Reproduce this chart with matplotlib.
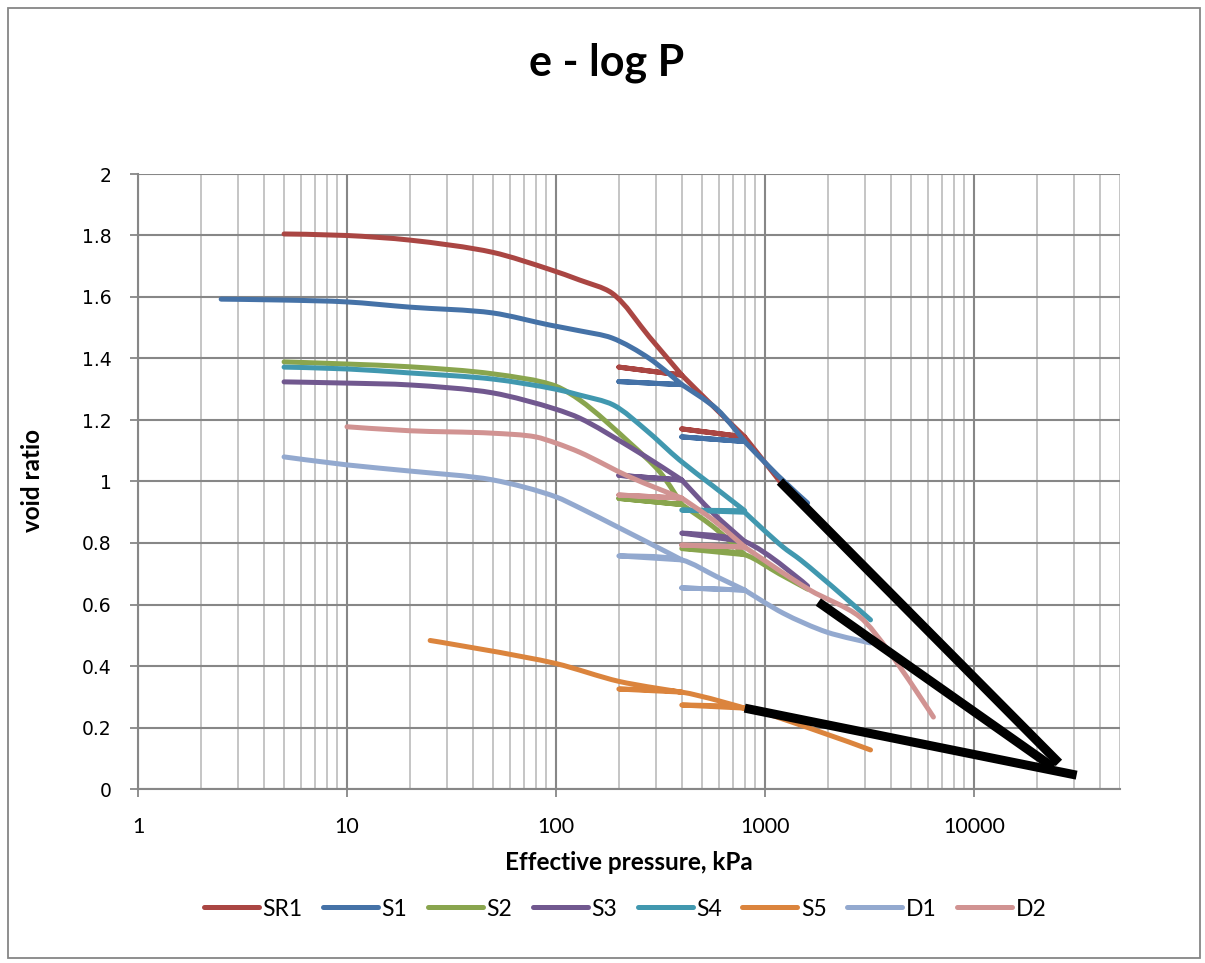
import matplotlib
matplotlib.use("Agg")
import numpy as np
import matplotlib.pyplot as plt
from matplotlib.ticker import LogLocator, FixedLocator, NullFormatter, FixedFormatter
from matplotlib.patches import Rectangle, PathPatch
from matplotlib.path import Path
from matplotlib.lines import Line2D

# ---------------- data ----------------
SR1_P = [5, 10, 20, 50, 93, 130, 185, 280, 400, 200, 400, 590, 800, 400, 800, 1180]
SR1_e = [1.805, 1.80, 1.785, 1.745, 1.69, 1.655, 1.613, 1.47, 1.346, 1.372, 1.346, 1.232, 1.145, 1.171, 1.145, 1.0]

S1_P = [2.5, 5, 10, 20, 50, 93, 130, 185, 280, 400, 200, 400, 590, 800, 400, 800, 1150, 1600]
S1_e = [1.593, 1.59, 1.584, 1.567, 1.548, 1.509, 1.49, 1.467, 1.40, 1.315, 1.325, 1.315, 1.235, 1.13, 1.145, 1.13, 1.02, 0.93]

S2_P = [5, 10, 20, 50, 100, 130, 226, 315, 400, 200, 400, 565, 800, 400, 800, 1170, 1600]
S2_e = [1.389, 1.382, 1.373, 1.35, 1.31, 1.265, 1.125, 1.03, 0.925, 0.945, 0.925, 0.853, 0.762, 0.782, 0.762, 0.70, 0.65]

S3_P = [5, 10, 20, 50, 100, 130, 225, 322, 400, 200, 400, 565, 800, 400, 800, 1600]
S3_e = [1.324, 1.32, 1.314, 1.288, 1.235, 1.206, 1.113, 1.047, 1.005, 1.02, 1.005, 0.897, 0.805, 0.832, 0.805, 0.66]

S4_P = [5, 10, 20, 50, 100, 130, 188, 270, 390, 565, 800, 400, 800, 1220, 1480, 3200]
S4_e = [1.372, 1.366, 1.353, 1.333, 1.30, 1.281, 1.249, 1.167, 1.07, 0.985, 0.905, 0.907, 0.90, 0.787, 0.745, 0.55]

S5_P = [25, 100, 200, 400, 200, 400, 800, 400, 800, 1600, 3200]
S5_e = [0.483, 0.408, 0.35, 0.315, 0.325, 0.315, 0.263, 0.273, 0.263, 0.20, 0.127]

D1_P = [5, 10, 20, 50, 100, 130, 200, 340, 400, 200, 400, 590, 800, 400, 800, 1220, 1980, 3200]
D1_e = [1.08, 1.054, 1.034, 1.005, 0.95, 0.914, 0.85, 0.77, 0.745, 0.758, 0.745, 0.69, 0.647, 0.654, 0.647, 0.572, 0.51, 0.475]

D2_P = [10, 20, 50, 80, 100, 130, 225, 400, 200, 400, 565, 800, 400, 800, 1640, 2840, 3870, 6400]
D2_e = [1.178, 1.165, 1.157, 1.145, 1.125, 1.095, 1.015, 0.946, 0.956, 0.946, 0.875, 0.787, 0.793, 0.787, 0.647, 0.56, 0.452, 0.234]

# black construction lines
BLK1_P = [1180, 25500]
BLK1_e = [1.0, 0.085]
BLK2_P = [1800, 24000]
BLK2_e = [0.608, 0.07]
BLK3_P = [800, 31000]
BLK3_e = [0.263, 0.045]

series_names = ["SR1", "S1", "S2", "S3", "S4", "S5", "D1", "D2"]
series_P = [SR1_P, S1_P, S2_P, S3_P, S4_P, S5_P, D1_P, D2_P]
series_e = [SR1_e, S1_e, S2_e, S3_e, S4_e, S5_e, D1_e, D2_e]
series_colors = ["#AA4643", "#4572A7", "#89A54E", "#71588F", "#4198AF", "#DB843D", "#93A9CF", "#D19392"]

x_tick_vals = [1, 10, 100, 1000, 10000]
x_tick_labels = ["1", "10", "100", "1000", "10000"]
y_tick_vals = [0, 0.2, 0.4, 0.6, 0.8, 1.0, 1.2, 1.4, 1.6, 1.8, 2.0]
y_tick_labels = ["0", "0.2", "0.4", "0.6", "0.8", "1", "1.2", "1.4", "1.6", "1.8", "2"]

# screen scale of the axes (px per decade, px per unit of void ratio) used for smoothing
SX, SY = 209.0, 307.5


def smooth_path(P, e, k=0.3, corner_deg=28.0):
    """Smoothed line: cubic Bezier segments with tangents along the bisector of the
    neighbouring segments; sharp turns and load reversals are kept as corners.
    Rendered by matplotlib's Path/CURVE4 through the log axis."""
    x = np.log10(np.asarray(P, float)) * SX
    y = np.asarray(e, float) * SY
    pts = np.column_stack([x, y])
    n = len(pts)
    tang = np.zeros_like(pts)
    for i in range(1, n - 1):
        d1 = pts[i] - pts[i - 1]
        d2 = pts[i + 1] - pts[i]
        l1, l2 = np.hypot(*d1), np.hypot(*d2)
        if l1 < 1e-6 or l2 < 1e-6:
            continue
        u1, u2 = d1 / l1, d2 / l2
        ang = np.degrees(np.arccos(np.clip(np.dot(u1, u2), -1, 1)))
        if ang > corner_deg:
            continue
        b = u1 + u2
        tang[i] = b / np.hypot(*b)
    verts = [(P[0], e[0])]
    codes = [Path.MOVETO]
    for i in range(n - 1):
        seg = np.hypot(*(pts[i + 1] - pts[i]))
        c1 = pts[i] + tang[i] * seg * k
        c2 = pts[i + 1] - tang[i + 1] * seg * k
        for c in (c1, c2):
            verts.append((10 ** (c[0] / SX), c[1] / SY))
        verts.append((P[i + 1], e[i + 1]))
        codes += [Path.CURVE4] * 3
    return Path(verts, codes)


# ---------------- figure ----------------
W, H = 1205, 963
fig = plt.figure(figsize=(W / 100, H / 100), dpi=100)
fig.patch.set_facecolor("white")

# outer chart border
fig.patches.append(Rectangle((8 / W, 5 / H), 1192 / W, 950 / H, transform=fig.transFigure,
                             fill=False, edgecolor="#868686", linewidth=1.3))

ax = fig.add_axes([138 / W, 1 - 789 / H, (1120 - 138) / W, (789 - 174) / H])
ax.set_xscale("log")
ax.set_xlim(1, 50000)
ax.set_ylim(0, 2)

major_c = "#878787"
minor_c = "#C0C0C0"

ax.xaxis.set_major_locator(FixedLocator(x_tick_vals))
ax.xaxis.set_major_formatter(FixedFormatter(x_tick_labels))
ax.xaxis.set_minor_locator(LogLocator(base=10, subs=range(2, 10), numticks=20))
ax.xaxis.set_minor_formatter(NullFormatter())
ax.yaxis.set_major_locator(FixedLocator(y_tick_vals))
ax.yaxis.set_major_formatter(FixedFormatter(y_tick_labels))

ax.grid(True, which="major", axis="both", color=major_c, linewidth=1.5, zorder=0)
ax.grid(True, which="minor", axis="x", color=minor_c, linewidth=1.3, zorder=0)
ax.set_axisbelow(True)

for s in ["top", "right"]:
    ax.spines[s].set_visible(False)
for s in ["left", "bottom"]:
    ax.spines[s].set_color(major_c)
    ax.spines[s].set_linewidth(1.5)

ax.tick_params(axis="both", which="major", direction="out", length=6, width=1.3, color=major_c)
ax.tick_params(axis="x", which="minor", length=0)
ax.tick_params(axis="y", which="major", pad=13)
ax.tick_params(axis="x", which="major", pad=14)
for lab in ax.get_yticklabels():
    lab.set_fontfamily("DejaVu Sans")
    lab.set_fontsize(13.5)
for lab in ax.get_xticklabels():
    lab.set_fontfamily("Lato")
    lab.set_fontsize(15.5)

handles = []
for name, P, e, c in zip(series_names, series_P, series_e, series_colors):
    patch = PathPatch(smooth_path(P, e), facecolor="none", edgecolor=c, linewidth=3.6,
                      capstyle="round", joinstyle="round", zorder=3)
    ax.add_patch(patch)
    handles.append(Line2D([], [], color=c, linewidth=3.6, solid_capstyle="round", label=name))

for P, e in [(BLK1_P, BLK1_e), (BLK2_P, BLK2_e), (BLK3_P, BLK3_e)]:
    ax.plot(P, e, color="black", linewidth=6.5, solid_capstyle="butt", zorder=4)

fig.text(607 / W, 1 - 63 / H, "e - log P", ha="center", va="center",
         fontsize=31, fontweight="bold", family="Lato")
fig.text(629 / W, 1 - 862 / H, "Effective pressure, kPa", ha="center", va="center",
         fontsize=17.5, fontweight="bold", family="Lato")
fig.text(32 / W, 1 - 481 / H, "void ratio", ha="center", va="center", rotation=90,
         fontsize=17.5, fontweight="bold", family="Lato")

leg = fig.legend(handles=handles, loc="center", bbox_to_anchor=(625 / W, 1 - 909 / H), ncol=8,
                 frameon=False, prop={"family": "Lato", "size": 16.5}, handlelength=2.4,
                 handletextpad=0.15, columnspacing=0.9)

fig.savefig("out.png", dpi=100)
